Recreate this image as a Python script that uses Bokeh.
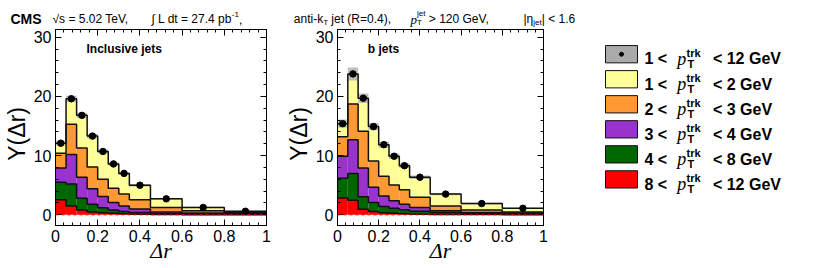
import numpy as np
from bokeh.plotting import figure
from bokeh.models import (Range1d, Label, SingleIntervalTicker, LinearAxis, Span,
                          CustomJSTickFormatter, CustomLabelingPolicy)
from bokeh.layouts import column, row
from bokeh.embed import file_html
from bokeh.resources import INLINE

# ---------------- data ----------------
bin_edges = [0.0, 0.05, 0.10, 0.15, 0.20, 0.25, 0.30, 0.35, 0.45, 0.60, 0.80, 1.00]

# Inclusive jets, per-layer contributions
incl_8_12 = [2.55, 1.5, 0.8, 0.5, 0.35, 0.25, 0.2, 0.1, 0.05, 0.03, 0.02]
incl_4_8 = [2.95, 3.7, 2.0, 1.3, 0.85, 0.55, 0.35, 0.3, 0.15, 0.12, 0.08]
incl_3_4 = [2.4, 5.0, 3.55, 2.6, 1.9, 1.3, 0.95, 0.6, 0.3, 0.15, 0.1]
incl_2_3 = [2.5, 5.1, 4.95, 3.7, 2.9, 2.4, 2.0, 1.55, 0.75, 0.4, 0.2]
incl_1_2 = [1.7, 4.3, 5.5, 5.2, 4.7, 4.1, 3.5, 2.45, 1.45, 0.55, 0.2]
incl_total = [12.1, 19.6, 16.8, 13.3, 10.7, 8.6, 7.0, 5.0, 2.7, 1.25, 0.6]
incl_err = [0.4, 0.5, 0.45, 0.4, 0.35, 0.3, 0.25, 0.2, 0.15, 0.1, 0.1]

# b jets, per-layer contributions
b_8_12 = [2.85, 2.45, 0.95, 0.55, 0.35, 0.25, 0.2, 0.12, 0.06, 0.04, 0.03]
b_4_8 = [3.35, 4.55, 2.1, 1.55, 1.05, 0.85, 0.65, 0.48, 0.34, 0.16, 0.12]
b_3_4 = [3.7, 5.7, 4.85, 2.55, 1.8, 1.3, 0.95, 0.65, 0.3, 0.2, 0.15]
b_2_3 = [3.3, 6.0, 6.2, 4.45, 3.3, 2.65, 2.45, 1.7, 0.8, 0.4, 0.2]
b_1_2 = [2.2, 5.1, 5.6, 5.8, 5.35, 4.85, 4.05, 3.4, 2.0, 1.1, 0.6]
b_total = [15.4, 23.8, 19.7, 14.9, 11.85, 9.9, 8.3, 6.35, 3.5, 1.9, 1.1]
b_err = [0.7, 1.1, 0.8, 0.6, 0.5, 0.45, 0.4, 0.3, 0.2, 0.15, 0.1]

# stacking order bottom -> top
layer_colors = ["#ff0000", "#006600", "#9933cc", "#ff9933", "#ffff99"]
band_color = "#b4b4b4"

legend_lo = ["1", "1", "2", "3", "4", "8"]
legend_hi = ["12", "2", "3", "4", "8", "12"]
legend_colors = ["#aaaaaa", "#ffff99", "#ff9933", "#9933cc", "#006600", "#ff0000"]

panel_titles = ["Inclusive jets", "b jets"]
x_ticks_labels = {0: "0", 1: "1"}
x_title = "Δr"
y_title = "Y(Δr)"

# ---------------- text helpers ----------------
SANS = "Liberation Sans"
SERIF = "Liberation Serif"
REG = {' ': 278, '(': 333, ')': 333, ',': 278, '-': 333, '.': 278, '<': 584, '=': 584, '>': 584,
       '|': 260, 'C': 722, 'G': 778, 'L': 556, 'M': 833, 'R': 722, 'S': 667, 'T': 611, 'V': 667,
       'Y': 667, 'a': 556, 'b': 556, 'd': 556, 'e': 556, 'i': 222, 'j': 222, 'k': 500, 'n': 556,
       'p': 556, 'r': 333, 's': 500, 't': 278, 'Δ': 668, 'η': 556, '√': 549, '∫': 274}
BOLD = {' ': 278, '<': 584, '>': 584, 'G': 778, 'e': 556, 'V': 667, 'C': 722, 'M': 833, 'S': 667,
        'r': 389, 't': 333, 'k': 556, 'I': 278, 'n': 611, 'c': 556, 'l': 278, 'u': 611, 's': 556,
        'i': 278, 'v': 556, 'j': 278, 'b': 611, 'T': 611}
ITAL = {'p': 500, 'r': 389}


def tw(s, size, kind):
    table = {'r': REG, 'b': BOLD, 'i': ITAL}[kind]
    return sum(table.get(c, 556) for c in s) * size / 1000.0


def lab(fig, x, y, t, size, kind, angle=0.0, align='left', font=None):
    fig.add_layout(Label(x=x, y=y, text=t, angle=angle,
                         text_font=font or (SERIF if kind == 'i' else SANS),
                         text_font_size=f"{size}px",
                         text_font_style={'r': 'normal', 'b': 'bold', 'i': 'italic'}[kind],
                         text_baseline='alphabetic', text_align=align, text_color='black'))


def rich(fig, x, y, pieces):
    """pieces: (text, size_px, kind, dy_px_down, same_start); fig uses pixel data coords, y down"""
    cur = 0.0
    prev_start = 0.0
    for (t, size, kind, dy, same) in pieces:
        start = prev_start if same else cur
        lead = len(t) - len(t.lstrip(' '))
        core = t.strip(' ')
        trail = len(t) - lead - len(core)
        sp = tw(' ', size, 'r')
        s0 = start + lead * sp
        lab(fig, x + s0, y + dy, core, size, kind)
        cur = max(cur, s0 + tw(core, size, kind) + trail * sp)
        prev_start = start
    return cur


def canvas(w, h, flip=True):
    f = figure(width=w, height=h, x_range=Range1d(0, w),
               y_range=Range1d(h, 0) if flip else Range1d(0, h),
               output_backend="svg", toolbar_location=None, x_axis_type=None, y_axis_type=None,
               min_border=0)
    f.outline_line_color = None
    f.grid.visible = False
    return f


ROW_H = 238   # page y 28 .. 266
NO_LABELS = CustomLabelingPolicy(code="""
try { for (let i = 0; i < indices.size; i++) indices.unset(i) } catch (e) {}
return indices
""")


def panel(layers, total, err, title, width, bl, br):
    p = figure(width=width, height=ROW_H, x_range=Range1d(0, 1), y_range=Range1d(-1.8, 31.3),
               output_backend="svg", toolbar_location=None, x_axis_type=None, y_axis_type=None,
               min_border_left=bl, min_border_right=br, min_border_top=1, min_border_bottom=41)
    p.outline_line_color = "black"
    p.outline_line_width = 1

    left = bin_edges[:-1]
    right = bin_edges[1:]
    cum = np.zeros(len(left))
    tops = []
    for vals, col in zip(layers, layer_colors):
        bottom = cum.copy()
        cum = cum + np.array(vals)
        p.quad(left=left, right=right, bottom=bottom, top=cum.copy(), fill_color=col,
               line_color=None)
        tops.append(cum.copy())
    tot = np.array(total)
    e = np.array(err)
    p.quad(left=left, right=right, bottom=tot - e, top=tot + e, fill_color=band_color,
           fill_alpha=0.85, line_color=None)
    for t in tops[:-1]:
        p.step(x=bin_edges, y=list(t) + [t[-1]], mode="after", line_color="#111111",
               line_width=1.5)
    p.step(x=bin_edges, y=list(tot) + [tot[-1]], mode="after", line_color="#111111",
           line_width=1.5)
    centers = [(a + b) / 2 for a, b in zip(left, right)]
    p.scatter(x=centers, y=total, size=6.5, color="black")
    p.add_layout(Span(location=0, dimension='width', line_color="#ff0000", line_dash="3 3",
                      line_width=1))

    xt = SingleIntervalTicker(interval=0.2, num_minor_ticks=5)
    yt = SingleIntervalTicker(interval=10, num_minor_ticks=5)
    for loc, ticker, show in [("below", xt, True), ("left", yt, True),
                              ("above", xt, False), ("right", yt, False)]:
        ax = LinearAxis(ticker=ticker)
        ax.major_tick_in = 6
        ax.major_tick_out = 0
        ax.minor_tick_in = 3
        ax.minor_tick_out = 0
        ax.axis_line_color = "black"
        ax.major_tick_line_color = "black"
        ax.minor_tick_line_color = "black"
        if show:
            ax.major_label_text_font = SANS
            ax.major_label_text_font_size = "16px"
            ax.major_label_text_color = "black"
            ax.major_label_standoff = 4
            ax.axis_label_text_color = "black"
            if loc == "below":
                ax.major_label_overrides = x_ticks_labels
                ax.axis_label = x_title
                ax.axis_label_text_font = SERIF
                ax.axis_label_text_font_style = "italic"
                ax.axis_label_text_font_size = "22px"
                ax.axis_label_standoff = -7
            else:
                ax.axis_label = y_title + "  "
                ax.axis_label_text_font = SANS
                ax.axis_label_text_font_style = "normal"
                ax.axis_label_text_font_size = "23px"
                ax.axis_label_standoff = 1
        else:
            ax.formatter = CustomJSTickFormatter(code="return ''")
            ax.major_label_policy = NO_LABELS
            ax.major_label_text_font_size = "0px"
            ax.major_label_standoff = 0
        p.add_layout(ax, loc)

    px_per_y = 196 / 33.1
    p.add_layout(Label(x=0.147, y=31.3 - (55.5 - 29) / px_per_y, text=title, text_font=SANS,
                       text_font_size="12px", text_font_style="bold", text_color="black"))
    return p


p1 = panel([incl_8_12, incl_4_8, incl_3_4, incl_2_3, incl_1_2], incl_total, incl_err,
           panel_titles[0], 282, 55, 16)
p2 = panel([b_8_12, b_4_8, b_3_4, b_2_3, b_1_2], b_total, b_err,
           panel_titles[1], 278, 50, 17)

# ---------------- header ----------------
hdr = canvas(822, 28)
BL = 18.5
rich(hdr, 10, BL, [("CMS", 14, 'b', 0, False)])
rich(hdr, 52, BL, [("√s = 5.02 TeV,", 12, 'r', 0, False)])
rich(hdr, 151, BL, [("∫ L dt = 27.4 pb", 12, 'r', 0, False), ("-1", 8, 'r', -5, False),
                    (",", 12, 'r', 0, False)])
rich(hdr, 293.3, BL, [("anti-k", 12, 'r', 0, False), ("T", 8, 'r', 3, False),
                      (" jet (R=0.4),", 12, 'r', 0, False)])
rich(hdr, 410, BL, [("p", 13, 'i', 0, False), ("jet", 8, 'r', -6, False), ("T", 8, 'r', 3, True),
                    (" > 120 GeV,", 12, 'r', 0, False)])
rich(hdr, 523, BL, [("|η", 12, 'r', 0, False), ("jet", 8, 'r', 3, False),
                    ("| < 1.6", 12, 'r', 0, False)])

# ---------------- legend ----------------
leg = canvas(262, ROW_H)
row_top = [19.5 + 30.4 * i for i in range(len(legend_lo))]
leg.quad(left=[45] * 6, right=[77] * 6, top=row_top, bottom=[t + 21 for t in row_top],
         fill_color=legend_colors, line_color="#111111", line_width=1)
leg.scatter(x=[61], y=[row_top[0] + 10.5], size=4, color="black")
for i, (lo, hi) in enumerate(zip(legend_lo, legend_hi)):
    base = row_top[i] + 10.5 + 5.8
    x0 = 84
    lab(leg, x0, base, lo + " <", 16, 'b')
    lab(leg, x0 + 32.7, base, "p", 18, 'i')
    lab(leg, x0 + 42, base - 7.5, "trk", 11, 'b')
    lab(leg, x0 + 43, base + 5.5, "T", 11, 'b')
    lab(leg, x0 + 68.4, base, "< " + hi + " GeV", 16, 'b')

layout = column(hdr, row(p1, p2, leg))
open("out.html", "w").write(file_html(layout, INLINE))
